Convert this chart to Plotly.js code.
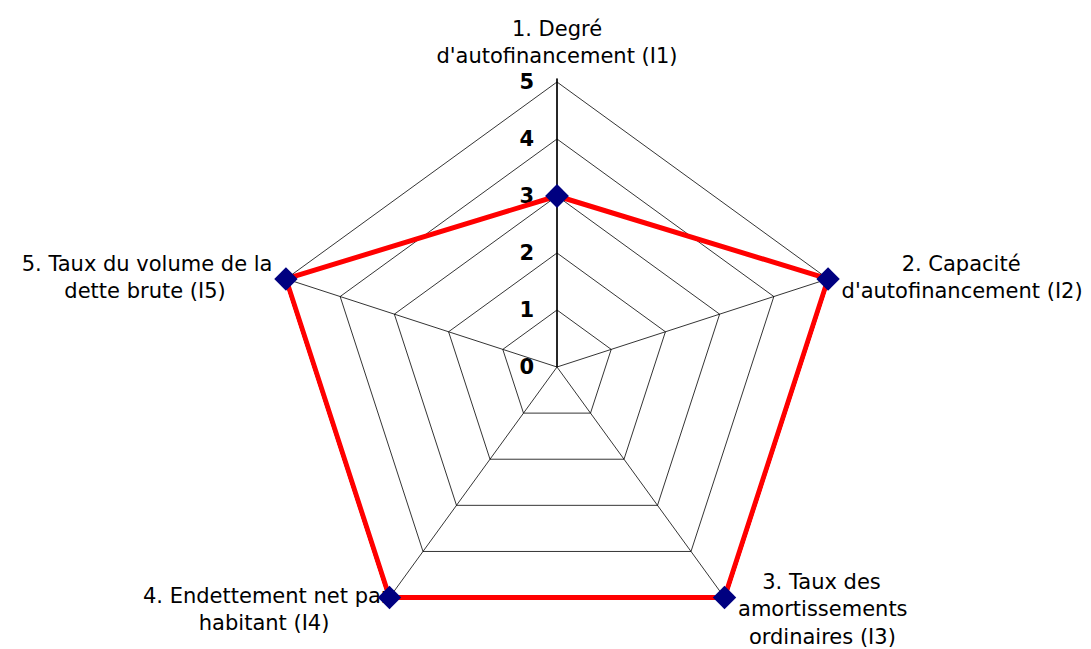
<!DOCTYPE html>
<html>
<head>
<meta charset="utf-8">
<script src="https://cdn.plot.ly/plotly-3.0.1.min.js"></script>
<style>html,body{margin:0;padding:0;overflow:hidden;background:#fff;}</style>
</head>
<body>
<div id="chart" style="width:1091px;height:656px;"></div>
<script>
const categories = ["I1", "I2", "I3", "I4", "I5"];
const NB = '\u00a0', TH = '\u2009';
const categoryLabels = [
  "1. Degré<br>d'autofinancement (I1)",
  NB.repeat(9) + "2. Capacité<br>d'autofinancement (I2)",
  NB + "<br>" + NB.repeat(3) + TH + "3. Taux des<br>amortissements<br>" + NB + TH + "ordinaires (I3)",
  NB + "<br>4. Endettement net par<br>habitant (I4)" + NB.repeat(9),
  "5. Taux du volume de la<br>dette brute (I5)" + NB.repeat(7)
];
const values = [3, 5, 5, 5, 5];
const radialTicks = [0, 1, 2, 3, 4, 5];
const radialTickText = ["0", "1", "2", "3", "4", "5"];

// styling / placement (not data)
const labelPositions = ["top center", "middle right", "middle right", "middle left", "middle left"];
const labelGap = [20, 20, 20, 0, 20];
const radialMax = 5;
const radialPad = 1.012;

const FONT = 'DejaVu Sans, Verdana, sans-serif';

const labelTrace = {
  type: 'scatterpolar',
  r: categories.map(() => radialMax),
  theta: categories,
  mode: 'markers+text',
  text: categoryLabels,
  textposition: labelPositions,
  textfont: {family: FONT, size: 21, color: '#000'},
  marker: {size: labelGap, opacity: 0},
  hoverinfo: 'skip',
  cliponaxis: false
};

const dataTrace = {
  type: 'scatterpolar',
  r: values.concat([values[0]]),
  theta: categories.concat([categories[0]]),
  mode: 'lines+markers',
  line: {color: '#ff0000', width: 5},
  marker: {symbol: 'diamond', size: 18, color: '#000080'},
  hoverinfo: 'skip',
  cliponaxis: false
};

const R = 285 * radialPad;
const H = Math.ceil(367 + R);

const layout = {
  width: 1091,
  height: H,
  margin: {l: 0, r: 0, t: 0, b: 0},
  paper_bgcolor: '#ffffff',
  showlegend: false,
  font: {family: FONT, size: 21, color: '#000'},
  polar: {
    domain: {x: [(557 - R) / 1091, (557 + R) / 1091], y: [(H - 367 - R) / H, (H - 367 + R) / H]},
    bgcolor: '#ffffff',
    gridshape: 'linear',
    angularaxis: {
      type: 'category',
      categoryarray: categories,
      rotation: 90,
      direction: 'clockwise',
      showline: false,
      gridcolor: '#000',
      gridwidth: 0.8,
      ticks: '',
      showticklabels: false,
      layer: 'below traces'
    },
    radialaxis: {
      range: [0, radialMax * radialPad],
      angle: 90,
      tickangle: 90,
      side: 'counterclockwise',
      tickvals: radialTicks,
      ticktext: radialTickText.map(t => '<b>' + t + '</b>' + '\u2002' + TH),
      ticks: '',
      showline: true,
      linecolor: '#000',
      linewidth: 1.5,
      gridcolor: '#000',
      gridwidth: 0.8,
      layer: 'below traces',
      tickfont: {family: FONT, size: 21, color: '#000'}
    }
  }
};

Plotly.newPlot('chart', [labelTrace, dataTrace], layout, {displayModeBar: false, staticPlot: true});
</script>
</body>
</html>
